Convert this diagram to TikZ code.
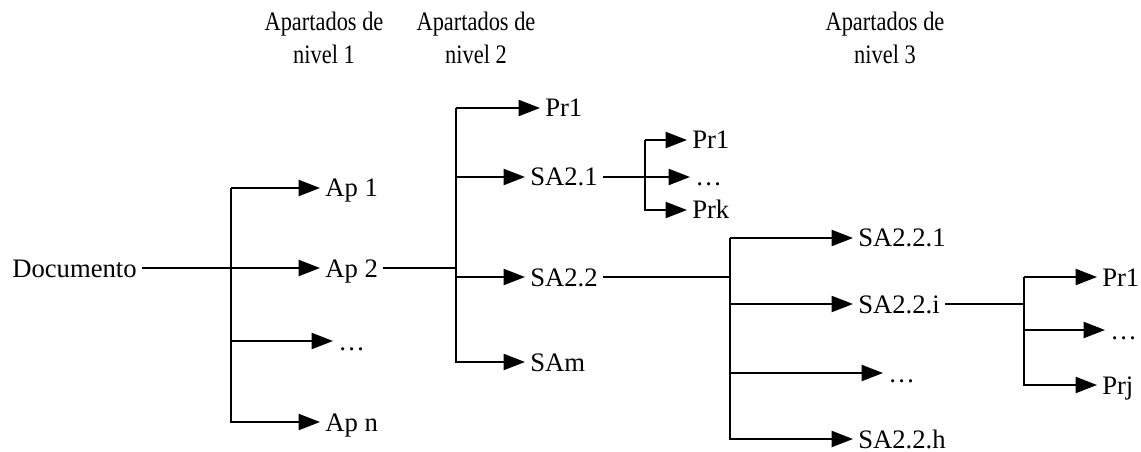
\documentclass[tikz,border=0pt]{standalone}
\usepackage{fontspec}
\setmainfont{Liberation Serif}
\newfontfamily\headfont[FakeStretch=0.84]{Liberation Serif}
\usetikzlibrary{arrows.meta}

\begin{document}
\begin{tikzpicture}[x=0.75pt,y=-0.75pt,
	every node/.style={font=\fontsize{20}{24.75}\selectfont},
	lbl/.style={inner sep=3.75pt,anchor=west,text height=13.5pt,text depth=0pt},
	head/.style={align=center,inner sep=0pt,font=\headfont\fontsize{20}{24.75}\selectfont},
	link/.style={black,line width=1.5pt},
	arr/.style={link,-{Triangle[length=16pt,width=12pt]}}]
			\useasboundingbox (0,0) rectangle (1141,452);

			% column titles
			\node[head] (h1) at (324,38){Apartados de\\nivel 1};
			\node[head] (h2) at (476,38){Apartados de\\nivel 2};
			\node[head] (h3) at (885,38){Apartados de\\nivel 3};

			% level 1
			\node[lbl,anchor=east] (doc) at (142,268){Documento};
			\node[lbl] (ap1) at (320,188){Ap 1};
			\node[lbl] (ap2) at (320,268){Ap 2};
			\node[lbl] (apd) at (333,341){\dots};
			\node[lbl] (apn) at (320,422){Ap n};

			\coordinate (b1) at (231,188);
			\draw[arr] (doc.east) -- (ap2.west);
			\draw[arr] (b1) -- (ap1.west);
			\draw[arr] (b1) |- (apn.west);
			\draw[arr] (b1 |- apd.west) -- (apd.west);

			% level 2
			\node[lbl] (pra) at (540,108){Pr1};
			\node[lbl] (sa21) at (525,177){SA2.1};
			\node[lbl] (sa22) at (525,277){SA2.2};
			\node[lbl] (sam) at (525,362){SAm};

			\coordinate (b2) at (456,108);
			\draw[link] (ap2.east) -- (b2 |- ap2.east);
			\draw[arr] (b2) -- (pra.west);
			\draw[arr] (b2) |- (sam.west);
			\draw[arr] (b2 |- sa21.west) -- (sa21.west);
			\draw[arr] (b2 |- sa22.west) -- (sa22.west);

			% under SA2.1
			\node[lbl] (prb) at (687,140){Pr1};
			\node[lbl] (prd) at (690,177){\dots};
			\node[lbl] (prk) at (687,210){Prk};

			\coordinate (b3) at (645,140);
			\draw[arr] (sa21.east) -- (prd.west);
			\draw[arr] (b3) -- (prb.west);
			\draw[arr] (b3) |- (prk.west);

			% level 3
			\node[lbl] (s1) at (853,238){SA2.2.1};
			\node[lbl] (si) at (853,304){SA2.2.i};
			\node[lbl] (sd) at (883,373){\dots};
			\node[lbl] (sh) at (853,439){SA2.2.h};

			\coordinate (b4) at (730,238);
			\draw[link] (sa22.east) -- (b4 |- sa22.east);
			\draw[arr] (b4) -- (s1.west);
			\draw[arr] (b4) |- (sh.west);
			\draw[arr] (b4 |- si.west) -- (si.west);
			\draw[arr] (b4 |- sd.west) -- (sd.west);

			% under SA2.2.i
			\node[lbl] (prc) at (1097,277){Pr1};
			\node[lbl] (pre) at (1105,330){\dots};
			\node[lbl] (prj) at (1097,385){Prj};

			\coordinate (b5) at (1024,277);
			\draw[link] (si.east) -- (b5 |- si.east);
			\draw[arr] (b5) -- (prc.west);
			\draw[arr] (b5) |- (prj.west);
			\draw[arr] (b5 |- pre.west) -- (pre.west);
		\end{tikzpicture}
\end{document}
